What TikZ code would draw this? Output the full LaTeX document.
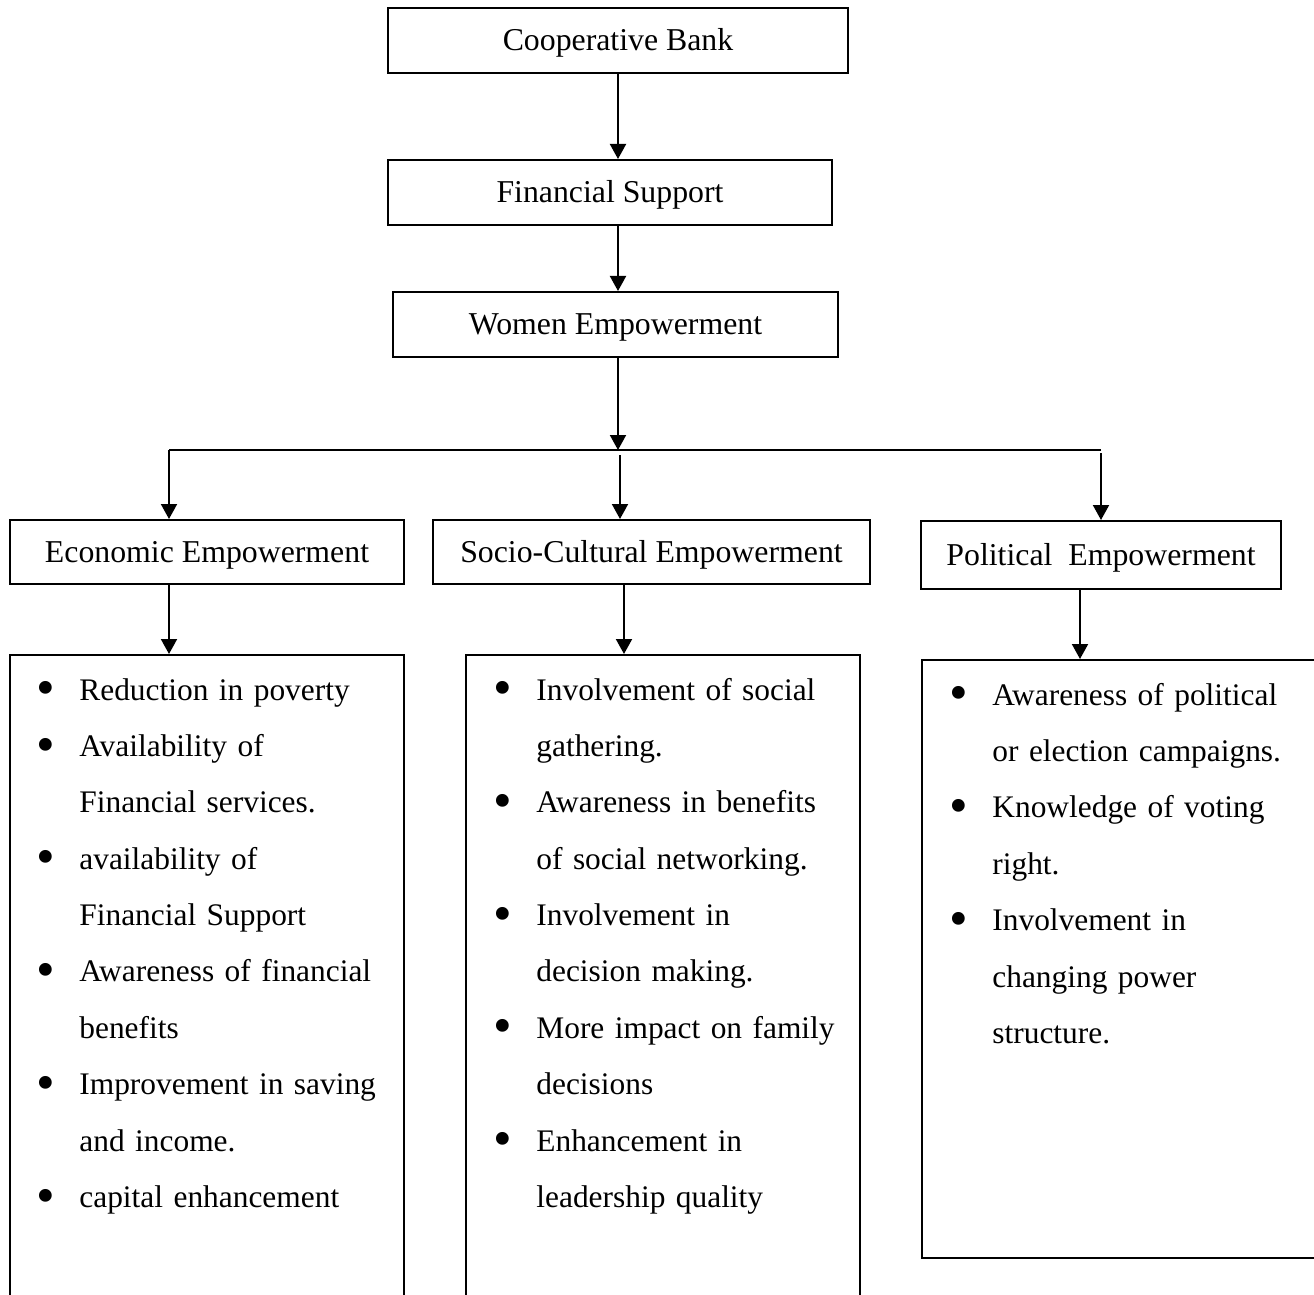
\documentclass[tikz,border=0pt]{standalone}
\usepackage{fontspec}
\usepackage{graphicx}
\setmainfont{Liberation Serif}
\usetikzlibrary{positioning, arrows.meta}
\newcommand{\itm}{\makebox[20pt][l]{\hspace*{-1.5pt}\raisebox{-2.8pt}{\scalebox{1.7}{\textbullet}}}}
\newcommand{\cnt}{\hspace*{20pt}}

\begin{document}
\begin{tikzpicture}[x=0.5pt, y=-0.5pt,
  box/.style={draw, line width=1pt, inner sep=0pt, minimum height=32.5pt,
    text height=12pt, text depth=2pt, font=\fontsize{15.9}{19}\selectfont},
  listbox/.style={draw, line width=1pt, inner sep=0pt},
  flow/.style={line width=1pt, -{Triangle[length=7.5pt, width=8pt]}},
  listtext/.style={anchor=base west, inner sep=0pt, text width=190pt,
    align=left, font=\fontsize{15.7}{28.2}\selectfont}]
\useasboundingbox (0,0) rectangle (1314,1295);
\clip (0,0) rectangle (1314,1295);

\node[box, minimum width=230pt] (bank) at (618,40.5) {Cooperative Bank};
\node[box, minimum width=222pt] (finsup) at (610,192.5) {Financial Support};
\node[box, minimum width=222.5pt] (women) at (615.5,324.5) {Women Empowerment};

\node[box, minimum width=197pt, minimum height=32pt] (econ) at (207,552)
  {Economic Empowerment};
\node[box, minimum width=218.5pt, minimum height=32pt] (socio) at (651.5,552)
  {Socio-Cultural Empowerment};
\node[box, minimum width=180pt, minimum height=34pt] (polit) at (1101,555)
  {Political\ \ Empowerment};

\node[listbox, minimum width=197pt, minimum height=372.5pt] (econlist) at (207,1027.5) {};
\node[listbox, minimum width=197pt, minimum height=372.5pt] (sociolist) at (663,1027.5) {};
\node[listbox, minimum width=209pt, minimum height=299pt] (politlist) at (1131,959) {};

\coordinate (busL) at (169,450);
\coordinate (busM) at (620,455);
\coordinate (busR) at (1101,450);

\draw[flow] (bank.south) -- (bank.south |- finsup.north);
\draw[flow] (finsup.south -| bank.south) -- (women.north -| bank.south);
\draw[flow] (women.south -| bank.south) -- (bank.south |- busL);
\draw[line width=1pt] (busL) -- (busR);
\draw[flow] (busL) -- (busL |- econ.north);
\draw[flow] (busM) -- (busM |- socio.north);
\draw[flow] ([yshift=-1.5pt]busR) -- (busR |- polit.north);
\draw[flow] (econ.south -| busL) -- (busL |- econlist.north);
\draw[flow] ([xshift=2pt]socio.south -| busM) -- ([xshift=2pt]busM |- sociolist.north);
\draw[flow] ([xshift=-10.5pt]polit.south) -- ([xshift=-10.5pt]polit.south |- politlist.north);

\node[listtext] (econtext) at (39,700) {%
  \itm Reduction in poverty\\
  \itm Availability of\\
  \cnt Financial services.\\
  \itm availability of\\
  \cnt Financial Support\\
  \itm Awareness of financial\\
  \cnt benefits\\
  \itm Improvement in saving\\
  \cnt and income.\\
  \itm capital enhancement};
\node[listtext] (sociotext) at (496,700) {%
  \itm Involvement of social\\
  \cnt gathering.\\
  \itm Awareness in benefits\\
  \cnt of social networking.\\
  \itm Involvement in\\
  \cnt decision making.\\
  \itm More impact on family\\
  \cnt decisions\\
  \itm Enhancement in\\
  \cnt leadership quality};
\node[listtext] (polittext) at (952,705) {%
  \itm Awareness of political\\
  \cnt or election campaigns.\\
  \itm Knowledge of voting\\
  \cnt right.\\
  \itm Involvement in\\
  \cnt changing power\\
  \cnt structure.};
\end{tikzpicture}
\end{document}
